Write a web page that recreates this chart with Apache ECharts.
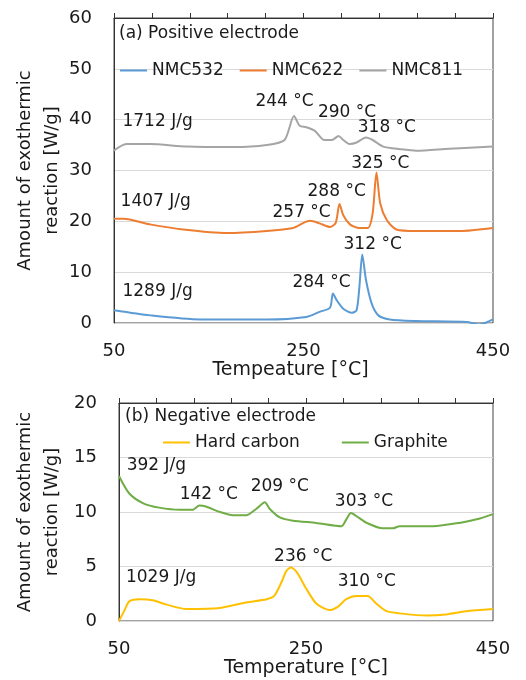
<!DOCTYPE html>
<html>
<head>
<meta charset="utf-8">
<script src="https://cdn.jsdelivr.net/npm/echarts/dist/echarts.min.js"></script>
<style>
  html, body { margin: 0; padding: 0; background: #fff; }
  #main { width: 526px; height: 680px; }
</style>
</head>
<body>
<div id="main"></div>
<script>
// (a) positive electrode, [temperature, W/g]
var nmc532 = [[50,2.5],[88,1.5],[141,0.7],[211,0.7],[253,1.2],[267,2.2],[278,3.0],[281,5.8],[285,4.5],[292,2.8],[301,2.0],[306,2.5],[309,7.1],[312,13.5],[316,8.4],[322,3.8],[329,1.5],[341,0.7],[369,0.4],[422,0.2],[436,-0.3],[443,0.1],[450,0.7]]
var nmc622 = [[50,20.5],[60,20.5],[88,19.4],[123,18.4],[169,17.7],[211,18.1],[239,18.7],[250,19.7],[257,20.1],[267,19.6],[278,18.9],[284,19.7],[288,23.4],[292,21.2],[299,19.4],[308,18.7],[318,18.7],[323,21.6],[327,29.6],[331,23.5],[338,20.2],[348,18.4],[369,18.1],[415,18.1],[450,18.7]]
var nmc811 = [[50,33.9],[63,35.2],[88,35.2],[127,34.7],[176,34.6],[211,35.0],[230,36.0],[240,40.7],[246,38.8],[253,38.5],[262,37.8],[272,36.0],[280,36.0],[287,36.8],[292,36.0],[299,35.2],[306,35.5],[316,36.5],[323,36.0],[334,34.7],[352,34.2],[369,33.9],[404,34.3],[450,34.7]]
// (b) negative electrode
var hardCarbon = [[50,0],[56,1.0],[61,1.8],[72,2.0],[86,1.9],[101,1.5],[122,1.1],[158,1.2],[186,1.7],[208,2.0],[216,2.3],[224,3.6],[229,4.6],[234,4.9],[240,4.5],[250,3.0],[261,1.6],[275,1.0],[284,1.3],[293,2.0],[304,2.3],[316,2.3],[325,1.6],[336,0.9],[350,0.7],[379,0.5],[400,0.6],[421,0.9],[450,1.1]]
var graphite = [[50,13.3],[61,11.7],[76,10.8],[93,10.4],[115,10.2],[129,10.2],[136,10.6],[143,10.5],[158,10.0],[172,9.7],[186,9.7],[197,10.3],[206,10.9],[211,10.3],[222,9.5],[236,9.2],[261,9.0],[288,8.7],[293,9.3],[298,9.9],[306,9.5],[315,9.0],[332,8.5],[343,8.5],[350,8.7],[386,8.7],[414,9.0],[436,9.4],[450,9.8]]

var notesTop = [[96,39.6,'1712 J/g'],[230,43.5,'244 °C'],[296,41.3,'290 °C'],[338,38.4,'318 °C'],[94,23.8,'1407 J/g'],[331,31.3,'325 °C'],[285,25.8,'288 °C'],[248,21.8,'257 °C'],[96,6.1,'1289 J/g'],[323,15.4,'312 °C'],[269,7.9,'284 °C']]
var notesBottom = [[90,14.3,'392 J/g'],[146,11.6,'142 °C'],[222,12.3,'209 °C'],[312,11.0,'303 °C'],[247,5.9,'236 °C'],[315,3.6,'310 °C'],[95,4.0,'1029 J/g']]

var xLabels = [50, 250, 450]

var font = 'DejaVu Sans'
var ink = '#1a1a1a'

function tempAxis(grid, name, nameGap, pad) {
  return {
    type: 'value', gridIndex: grid, min: 50, max: 450, interval: 10,
    axisLine: { show: false }, axisTick: { show: false }, splitLine: { show: false },
    axisLabel: {
      fontFamily: font, fontSize: 18, color: ink, margin: 19,
      formatter: function (v) { return xLabels.indexOf(v) >= 0 ? String(v) : '' }
    },
    name: name, nameLocation: 'middle', nameGap: nameGap,
    nameTextStyle: { fontFamily: font, fontSize: 19, color: ink, padding: pad }
  }
}
function tickAxis(grid) {
  // only draws the minor ticks every 40 °C
  return {
    type: 'value', gridIndex: grid, min: 0, max: 400, interval: 40,
    axisLine: { show: true, lineStyle: { color: '#333', width: 1 } },
    axisTick: { show: true, length: 5, lineStyle: { color: '#333' } },
    axisLabel: { show: false }, splitLine: { show: false }
  }
}
function wAxis(grid, max, step, gap) {
  return {
    type: 'value', gridIndex: grid, min: 0, max: max, interval: step,
    axisLine: { show: true, lineStyle: { color: '#333' } },
    axisTick: { show: false },
    axisLabel: { fontFamily: font, fontSize: 18, color: ink, margin: 22 },
    splitLine: { lineStyle: { color: '#d9d9d9', width: 1 } },
    name: 'Amount of exothermic\nreaction [W/g]', nameLocation: 'middle', nameGap: gap,
    nameMoveOverlap: false,
    nameTextStyle: { fontFamily: font, fontSize: 18, color: ink, lineHeight: 27 }
  }
}
function curve(name, data, color, xi, yi) {
  return {
    name: name, type: 'line', data: data, xAxisIndex: xi, yAxisIndex: yi,
    symbol: 'none', smooth: 0.25, lineStyle: { color: color, width: 2 }, itemStyle: { color: color }
  }
}
function notes(data, xi, yi) {
  return {
    type: 'scatter', xAxisIndex: xi, yAxisIndex: yi, silent: true, symbolSize: 0,
    itemStyle: { color: '#fff', opacity: 1 },
    data: data.map(function (d) { return { value: [d[0], d[1]], name: d[2] } }),
    label: { show: true, position: 'inside', formatter: '{b}', fontFamily: font, fontSize: 17,
      color: ink, textBorderWidth: 0 }
  }
}

var chart = echarts.init(document.getElementById('main'))
var option = {
  backgroundColor: '#fff',
  animation: false,
  title: [
    { text: '(a) Positive electrode', left: 119, top: 25, padding: 0,
      textStyle: { fontFamily: font, fontSize: 17, fontWeight: 'normal', color: ink } },
    { text: '(b) Negative electrode', left: 125, top: 408, padding: 0,
      textStyle: { fontFamily: font, fontSize: 17, fontWeight: 'normal', color: ink } }
  ],
  legend: [
    { data: ['NMC532', 'NMC622', 'NMC811'], left: 120, top: 62, padding: 0, icon: 'rect',
      itemWidth: 27, itemHeight: 2, itemGap: 16,
      textStyle: { fontFamily: font, fontSize: 17, color: ink } },
    { data: ['Hard carbon', 'Graphite'], left: 163, top: 434, padding: 0, icon: 'rect',
      itemWidth: 27, itemHeight: 2, itemGap: 42,
      textStyle: { fontFamily: font, fontSize: 17, color: ink } }
  ],
  grid: [
    { left: 114, right: 33, top: 18, height: 305, show: true, borderColor: '#444', borderWidth: 1 },
    { left: 119, right: 33, top: 403, height: 218, show: true, borderColor: '#444', borderWidth: 1 }
  ],
  xAxis: [
    tempAxis(0, 'Tempeature [°C]', 35, [0, 26, 0, 0]),
    tickAxis(0),
    tempAxis(1, 'Temperature [°C]', 37, 0),
    tickAxis(1)
  ],
  yAxis: [wAxis(0, 60, 10, 48), wAxis(1, 20, 5, 53)],
  series: [
    curve('NMC532', nmc532, '#5B9BD5', 0, 0),
    curve('NMC622', nmc622, '#ED7D31', 0, 0),
    curve('NMC811', nmc811, '#A5A5A5', 0, 0),
    notes(notesTop, 0, 0),
    curve('Hard carbon', hardCarbon, '#FFC000', 2, 1),
    curve('Graphite', graphite, '#70AD47', 2, 1),
    notes(notesBottom, 2, 1)
  ]
}
chart.setOption(option)
</script>
</body>
</html>
